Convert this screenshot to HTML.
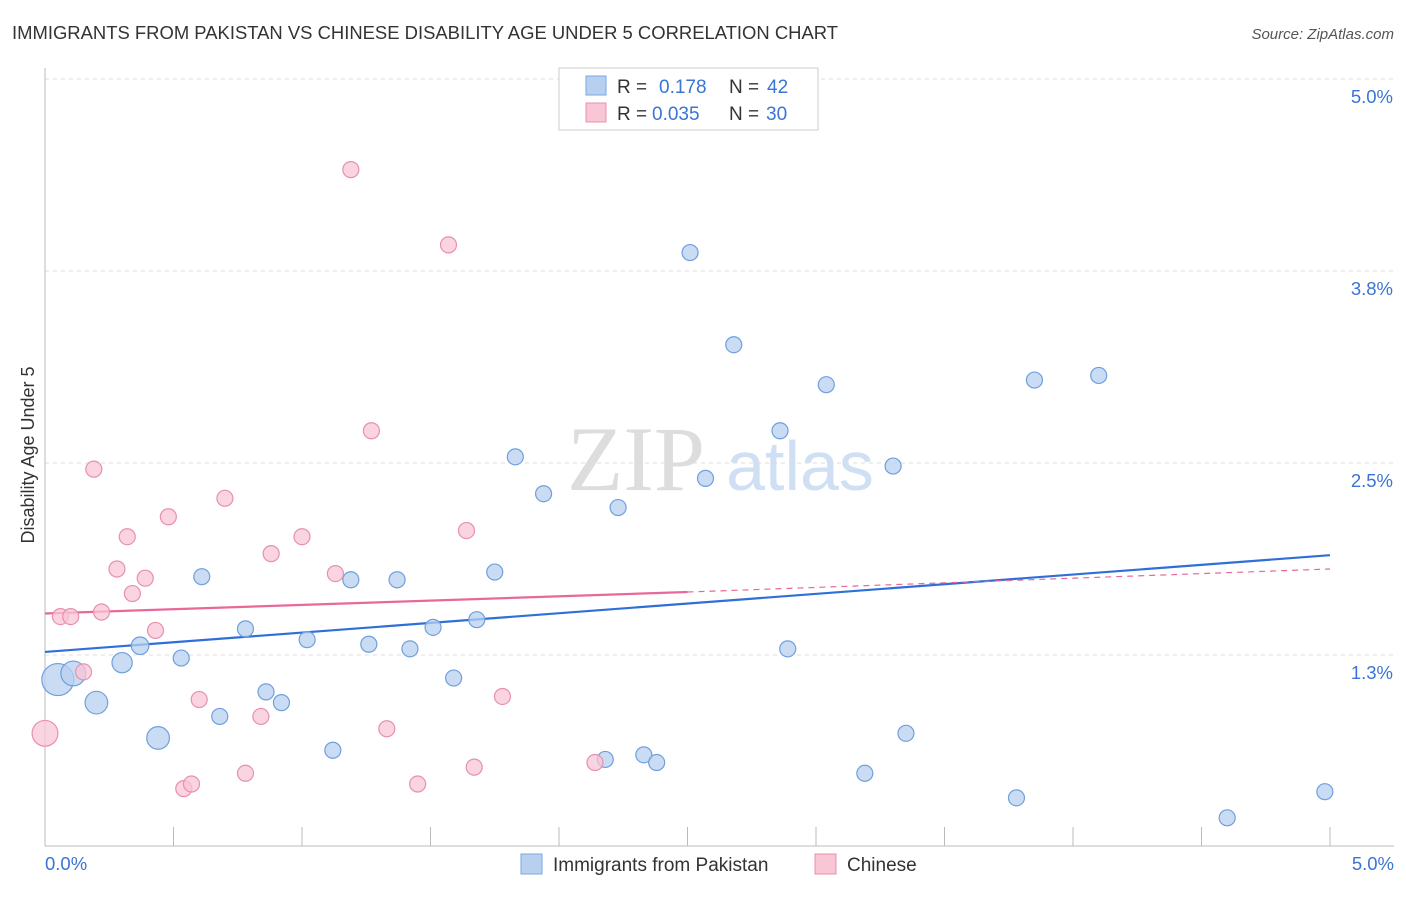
<!DOCTYPE html>
<html><head><meta charset="utf-8"><style>
body{margin:0;background:#fff;font-family:"Liberation Sans",sans-serif;}
svg text{font-family:"Liberation Sans",sans-serif;}
</style></head><body>
<svg id="chart" width="1406" height="892" xmlns="http://www.w3.org/2000/svg">
<text x="12" y="39" font-size="18.5" fill="#333" textLength="826" lengthAdjust="spacingAndGlyphs">IMMIGRANTS FROM PAKISTAN VS CHINESE DISABILITY AGE UNDER 5 CORRELATION CHART</text>
<text x="1394" y="39" font-size="15" fill="#555" font-style="italic" text-anchor="end">Source: ZipAtlas.com</text>
<text x="34" y="455" font-size="18" fill="#333" text-anchor="middle" transform="rotate(-90 34 455)">Disability Age Under 5</text>
<g>
<text x="636" y="490" font-size="92" fill="#ddd" font-family="Liberation Serif" text-anchor="middle" style="font-family:'Liberation Serif',serif">ZIP</text>
<text x="800" y="490" font-size="70" fill="#cfe0f4" text-anchor="middle">atlas</text>
</g>
<g id="grid"></g><g id="axes"></g><g id="lines"></g><g id="pts"></g>
<g>
<rect x="559" y="68" width="259" height="62" fill="#fff" stroke="#ccc"/>
<rect x="586" y="76" width="20" height="19" fill="#b8d0f0" stroke="#7aa7e0"/>
<rect x="586" y="103" width="20" height="19" fill="#f8c6d5" stroke="#e890ac"/>
<text x="617" y="93" font-size="19" fill="#333">R = </text><text x="659" y="93" font-size="19" fill="#3a74d4">0.178</text>
<text x="729" y="93" font-size="19" fill="#333">N = </text><text x="767" y="93" font-size="19" fill="#3a74d4">42</text>
<text x="617" y="120" font-size="19" fill="#333">R = </text><text x="652" y="120" font-size="19" fill="#3a74d4">0.035</text>
<text x="729" y="120" font-size="19" fill="#333">N = </text><text x="766" y="120" font-size="19" fill="#3a74d4">30</text>
</g>
<g>
<rect x="521" y="854" width="21" height="20" fill="#b8d0f0" stroke="#7aa7e0"/>
<text x="553" y="871" font-size="19" fill="#333">Immigrants from Pakistan</text>
<rect x="815" y="854" width="21" height="20" fill="#f8c6d5" stroke="#e890ac"/>
<text x="847" y="871" font-size="19" fill="#333">Chinese</text>
</g>
</svg>
<script>
const blueX=[0.05,0.11,0.20,0.30,0.37,0.44,0.53,0.61,0.68,0.78,0.86,0.92,1.02,1.12,1.19,1.26,1.37,1.42,1.51,1.59,1.68,1.75,1.83,1.94,2.18,2.23,2.33,2.38,2.51,2.57,2.68,2.86,2.89,3.04,3.19,3.30,3.35,3.78,3.85,4.10,4.60,4.98];
const blueY=[1.09,1.13,0.94,1.20,1.31,0.71,1.23,1.76,0.85,1.42,1.01,0.94,1.35,0.63,1.74,1.32,1.74,1.29,1.43,1.10,1.48,1.79,2.54,2.30,0.57,2.21,0.60,0.55,3.87,2.40,3.27,2.71,1.29,3.01,0.48,2.48,0.74,0.32,3.04,3.07,0.19,0.36];
const blueW=[4,2.4,2,1.6,1.2,2,1,1,1,1,1,1,1,1,1,1,1,1,1,1,1,1,1,1,1,1,1,1,1,1,1,1,1,1,1,1,1,1,1,1,1,1];
const pinkX=[0.00,0.06,0.10,0.15,0.19,0.22,0.28,0.32,0.34,0.39,0.43,0.48,0.54,0.57,0.60,0.70,0.78,0.84,0.88,1.00,1.13,1.19,1.27,1.33,1.45,1.57,1.64,1.67,1.78,2.14];
const pinkY=[0.74,1.50,1.50,1.14,2.46,1.53,1.81,2.02,1.65,1.75,1.41,2.15,0.38,0.41,0.96,2.27,0.48,0.85,1.91,2.02,1.78,4.41,2.71,0.77,0.41,3.92,2.06,0.52,0.98,0.55];
const pinkW=[2.6,1,1,1,1,1,1,1,1,1,1,1,1,1,1,1,1,1,1,1,1,1,1,1,1,1,1,1,1,1];
const yTicks=[5.0,3.75,2.5,1.25];
const yTickLabels=["5.0%","3.8%","2.5%","1.3%"];
const blueTrend=[0,1.27,5,1.90];
const pinkTrend=[0,1.52,2.5,1.66,5,1.81];
const X=v=>45+v*257, Y=v=>79+(5-v)*153.6;
const NS="http://www.w3.org/2000/svg";
function mk(p,t,a){const e=document.createElementNS(NS,t);for(const k in a)e.setAttribute(k,a[k]);p.appendChild(e);return e;}
const grid=document.getElementById('grid'),axes=document.getElementById('axes'),lines=document.getElementById('lines'),pts=document.getElementById('pts');
yTicks.forEach((t,i)=>{
 const g=mk(grid,'line',{x1:45,x2:1394,y1:Y(t),y2:Y(t),stroke:'#ddd','stroke-dasharray':'4,4'});
 
 
 const l=mk(axes,'text',{x:1393,y:Y(t)+24,'font-size':18.5,fill:'#3a74d4','text-anchor':'end'});
 l.textContent=yTickLabels[i];
 
 
});
const ax=mk(axes,'line',{x1:45,x2:45,y1:68,y2:846,stroke:'#bbb'});


const bx=mk(axes,'line',{x1:45,x2:1394,y1:846,y2:846,stroke:'#bbb'});


for(let i=0;i<=10;i++){const t=mk(axes,'line',{x1:X(i*0.5),x2:X(i*0.5),y1:827,y2:846,stroke:'#bbb'});
 
 }
[["0.0%",45,'start'],["5.0%",1394,'end']].forEach(a=>{const t=mk(axes,'text',{x:a[1],y:870,'font-size':18.5,fill:'#3a74d4','text-anchor':a[2]});t.textContent=a[0];
 
 });
const bl=mk(lines,'line',{x1:X(blueTrend[0]),y1:Y(blueTrend[1]),x2:X(blueTrend[2]),y2:Y(blueTrend[3]),stroke:'#2f6fd8','stroke-width':2.2});


const pl=mk(lines,'line',{x1:X(pinkTrend[0]),y1:Y(pinkTrend[1]),x2:X(pinkTrend[2]),y2:Y(pinkTrend[3]),stroke:'#e8689a','stroke-width':2.2});


const pd=mk(lines,'line',{x1:X(pinkTrend[2]),y1:Y(pinkTrend[3]),x2:X(pinkTrend[4]),y2:Y(pinkTrend[5]),stroke:'#e8689a','stroke-width':1.2,'stroke-dasharray':'6,5'});


blueX.forEach((x,i)=>{const c=mk(pts,'circle',{cx:X(x),cy:Y(blueY[i]),r:8*Math.sqrt(blueW[i]),fill:'#b8d0f0','fill-opacity':0.75,stroke:'#6f9fdc','stroke-width':1.2});
 
 });
pinkX.forEach((x,i)=>{const c=mk(pts,'circle',{cx:X(x),cy:Y(pinkY[i]),r:8*Math.sqrt(pinkW[i]),fill:'#f8c6d5','fill-opacity':0.75,stroke:'#e890ac','stroke-width':1.2});
 
 });
</script>
</body></html>
